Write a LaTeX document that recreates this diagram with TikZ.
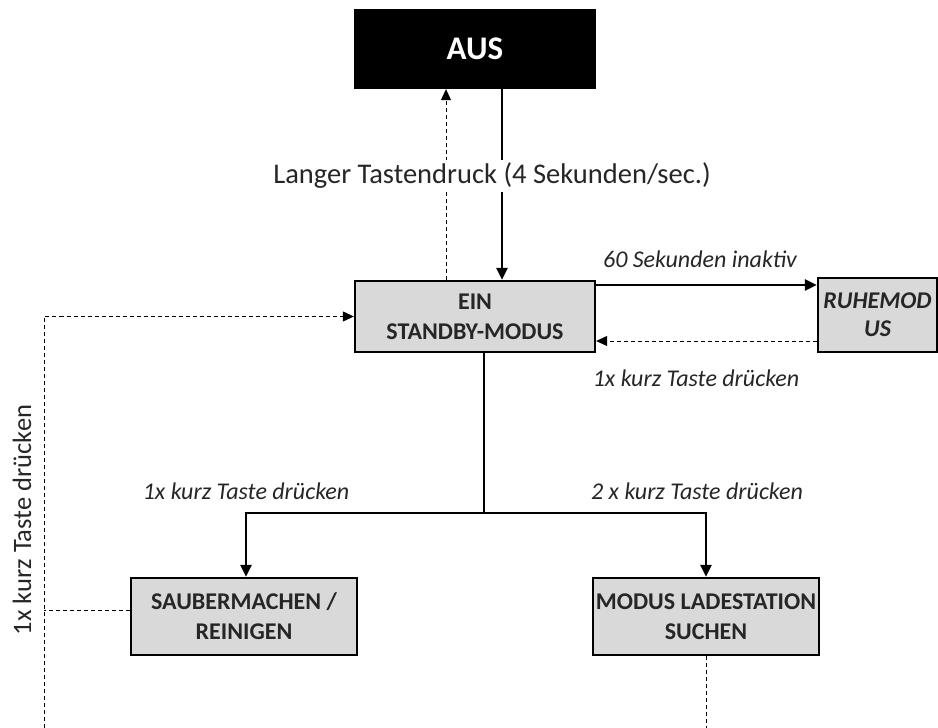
\documentclass[tikz,border=0pt]{standalone}
\usepackage{fontspec}
\setmainfont{Carlito}
\usetikzlibrary{arrows.meta,calc}
\definecolor{boxgray}{HTML}{D9D9D9}
\definecolor{txt}{HTML}{262626}
\begin{document}
\begin{tikzpicture}[x=1pt,y=-1pt,
  box/.style={draw=black,line width=2.3pt,fill=boxgray,inner sep=0pt,align=center,
    font=\fontsize{24}{30}\selectfont\bfseries,text=txt},
  solidarrow/.style={line width=2.6pt,-{Triangle[length=12pt,width=11pt]}},
  solidline/.style={line width=2.6pt},
  dasharrow/.style={line width=1pt,dash pattern=on 4pt off 3pt,-{Triangle[length=11pt,width=10pt]}},
  dashline/.style={line width=1pt,dash pattern=on 4pt off 3pt},
  lbl/.style={font=\fontsize{24}{28}\selectfont\itshape,text=txt,inner sep=1pt},
  biglbl/.style={font=\fontsize{28.5}{32}\selectfont,text=txt,inner sep=3pt}]
\useasboundingbox (0,0) rectangle (938,728);
\fill[white] (0,0) rectangle (938,728);
\node[box,fill=black,text=white,font=\fontsize{33}{36}\selectfont\bfseries,minimum width=240pt,minimum height=78pt] (aus) at (475,49) {AUS};
\node[box,minimum width=240pt,minimum height=71pt] (ein) at (475,316.5) {EIN\\STANDBY-MODUS};
\node[box,font=\fontsize{24}{28}\selectfont\bfseries\itshape,minimum width=119pt,minimum height=74pt] (ruhe) at (877.5,315) {RUHEMOD\\US};
\node[box,minimum width=226pt,minimum height=77pt] (saub) at (244,616.5) {SAUBERMACHEN /\\REINIGEN};
\node[box,minimum width=226pt,minimum height=77pt] (modus) at (706,616.5) {MODUS LADESTATION\\SUCHEN};
\coordinate (lb) at (44,728);
\coordinate (mb) at (706,728);
\coordinate (sw) at ([yshift=6pt]saub.west);
% AUS <-> EIN
\draw[solidarrow] ([xshift=27pt]aus.south) -- ([xshift=27pt]ein.north);
\draw[dasharrow] ([xshift=-29pt]ein.north) -- ([xshift=-29pt]aus.south);
% EIN <-> RUHE
\draw[solidarrow] ([yshift=31.5pt]ein.east) -- ([yshift=30pt]ruhe.west);
\draw[dasharrow] ([yshift=-26pt]ruhe.west) -- ([yshift=-24.5pt]ein.east);
% EIN -> split
\draw[solidline] ([xshift=9pt]ein.south) -- ++(0,160) coordinate (split);
\draw[solidarrow] (split) -| ([xshift=2pt]saub.north);
\draw[solidarrow] (split) -| (modus.north);
% left loop
\draw[dashline] (sw) -- (sw -| lb);
\draw[dasharrow] (lb) |- (ein.west);
\draw[dashline] (modus.south) -- (mb);
% labels
\node[biglbl,fill=white] (l1) at (492,176) {Langer Tastendruck (4 Sekunden/sec.)};
\node[lbl] (l2) at (700,259) {60 Sekunden inaktiv};
\node[lbl] (l3) at (696,378) {1x kurz Taste drücken};
\node[lbl] (l4) at (246,491) {1x kurz Taste drücken};
\node[lbl] (l5) at (697,491) {2 x kurz Taste drücken};
\node[biglbl,rotate=90,font=\fontsize{26.5}{30}\selectfont] (l6) at (22,520) {1x kurz Taste drücken};
\end{tikzpicture}
\end{document}
